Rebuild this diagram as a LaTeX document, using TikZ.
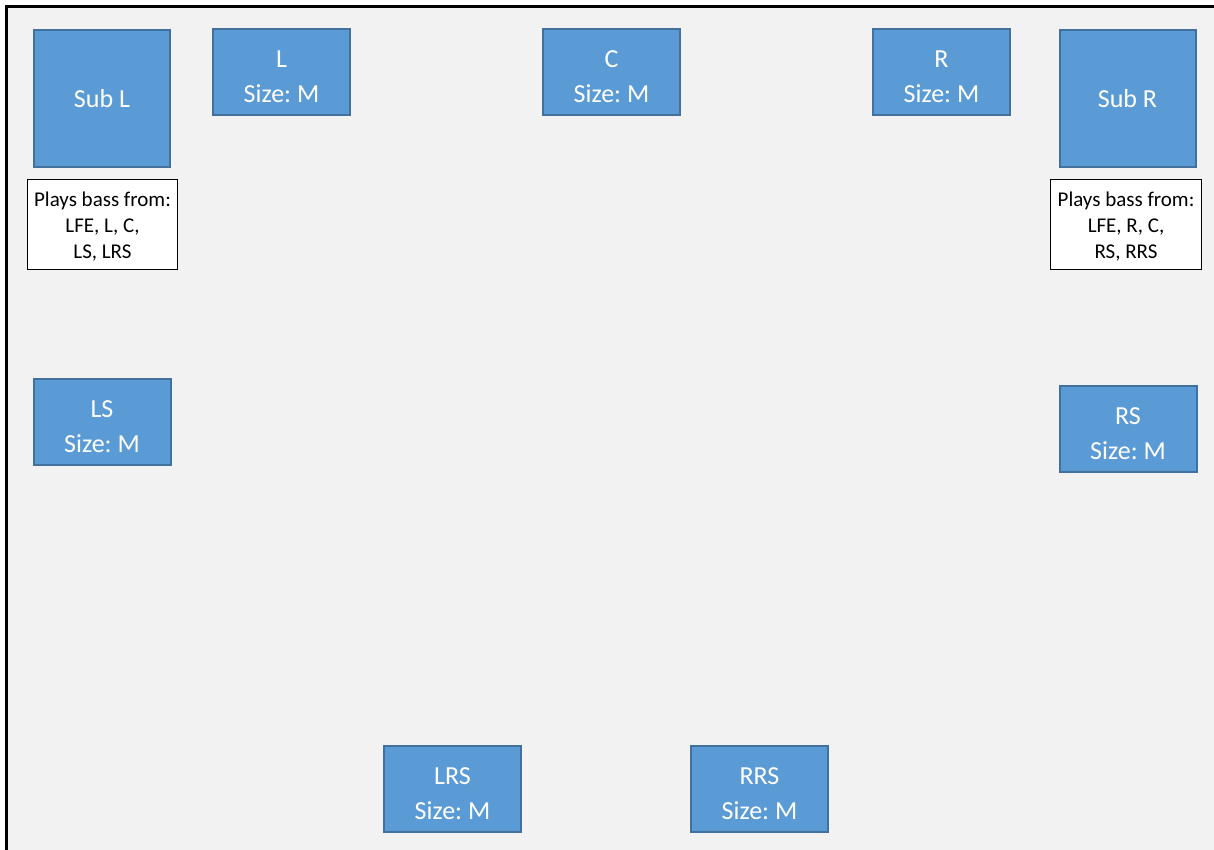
\documentclass[tikz,border=0pt]{standalone}
\usepackage{fontspec}
\setmainfont{Carlito}
\frenchspacing
\definecolor{bgray}{HTML}{F2F2F2}
\definecolor{spkfill}{HTML}{5B9BD5}
\definecolor{spkline}{HTML}{41719C}
\tikzset{
  spk/.style={draw=spkline, fill=spkfill, line width=1pt, text=white, inner sep=0pt,
    align=center, font=\fontsize{13pt}{17.5pt}\selectfont},
  spkm/.style={spk, minimum width=68.5pt, minimum height=43pt},
  spksub/.style={spk, minimum width=68pt, minimum height=68.5pt},
  spktxt/.style={text=white, inner sep=0pt, align=center, yshift=-2.25pt,
    font=\fontsize{13pt}{17.5pt}\selectfont},
  note/.style={draw=black, fill=white, line width=0.5pt, inner sep=0pt,
    minimum width=75.25pt, minimum height=44.5pt},
  notetxt/.style={inner sep=0pt, align=center, yshift=-1pt,
    font=\fontsize{10.5pt}{13pt}\selectfont}
}
\begin{document}
\begin{tikzpicture}[x=0.5pt, y=-0.5pt]
\useasboundingbox (0,0) rectangle (1214,850);
\fill[white] (0,0) rectangle (1214,850);
\fill[bgray] (7,7) rectangle (1214,850);
\coordinate (bl) at (6.5,850);
\coordinate (tl) at (6.5,6.5);
\coordinate (tr) at (1214,6.5);
\draw[line width=1.25pt] (bl) -- (tl) -- (tr);

\node[spksub] (subl) at (102,98.5) {Sub L};
\node[note, label={[notetxt]center:Plays bass from:\\LFE, L, C,\\LS, LRS}] (notel) at (102.5,224.5) {};
\node[spkm, label={[spktxt]center:L\\Size: M}] (l) at (281.5,72) {};
\node[spkm, label={[spktxt]center:C\\Size: M}] (c) at (611.5,72) {};
\node[spkm, label={[spktxt]center:R\\Size: M}] (r) at (941.5,72) {};
\node[spksub] (subr) at (1127.5,98.5) {Sub R};
\node[note, label={[notetxt]center:Plays bass from:\\LFE, R, C,\\RS, RRS}] (noter) at (1126,224.5) {};
\node[spkm, label={[spktxt]center:LS\\Size: M}] (ls) at (102,422) {};
\node[spkm, label={[spktxt]center:RS\\Size: M}] (rs) at (1128,429) {};
\node[spkm, label={[spktxt]center:LRS\\Size: M}] (lrs) at (452.5,789) {};
\node[spkm, label={[spktxt]center:RRS\\Size: M}] (rrs) at (759.5,789) {};
\end{tikzpicture}
\end{document}
